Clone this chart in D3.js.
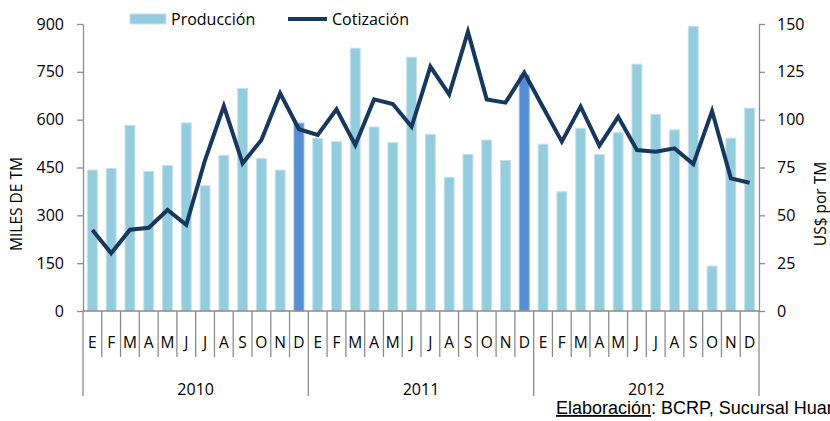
<!DOCTYPE html>
<html><head><meta charset="utf-8">
<script src="https://cdn.jsdelivr.net/npm/d3@7"></script>
<style>
html,body{margin:0;padding:0;background:#fff;}
svg{display:block;}
</style></head>
<body>
<svg id="chart" width="830" height="421"></svg>
<script>
const years = ["2010","2011","2012"];
const monthLabels = ["E","F","M","A","M","J","J","A","S","O","N","D"];
const produccion = [
  442,447,582,438,456,590,393,488,698,478,442,589,
  541,531,824,577,528,796,554,419,491,536,472,740,
  523,374,573,491,559,774,617,568,892,141,542,636
];
const cotizacion = [
  42.3,30.2,42.5,43.5,52.8,45.0,78.9,107.1,77.2,89.4,113.8,95.0,
  92.0,105.4,86.8,110.6,108.2,96.3,127.7,113.2,146.0,110.6,108.9,124.5,
  106.5,88.5,106.8,86.4,101.5,84.1,83.3,85.0,76.8,104.5,69.3,67.0
];
const highlightIdx = [11,23];
const leftTicks = [0,150,300,450,600,750,900];
const rightTicks = [0,25,50,75,100,125,150];

const months = [];
years.forEach((y,yi)=>monthLabels.forEach((m,mi)=>months.push({key:y+"-"+mi, m, y, i:yi*12+mi})));

const svg = d3.select("#chart");
const L = 83, R = 759, T = 24, B = 311;
const FONT = "'Open Sans', sans-serif";

const x = d3.scaleBand().domain(months.map(d=>d.key)).range([L,R]).paddingInner(0.42).paddingOuter(0.21);
const yL = d3.scaleLinear().domain([0,900]).range([B,T]);
const yR = d3.scaleLinear().domain([0,150]).range([B,T]);

// bars
svg.append("g").selectAll("rect").data(months).join("rect")
  .attr("x", d=>x(d.key)+0.5)
  .attr("width", x.bandwidth()-1)
  .attr("y", d=>yL(produccion[d.i]))
  .attr("height", d=>B - yL(produccion[d.i]))
  .attr("fill", d=>highlightIdx.includes(d.i) ? "#558ED5" : "#93CDDD")
  .attr("stroke", d=>highlightIdx.includes(d.i) ? "#8EB4E3" : "#C6E0EE")
  .attr("stroke-width", 1);

// axes
const axColor = "#8C8C8C";
const gL = svg.append("g").attr("transform",`translate(${L},0)`)
  .call(d3.axisLeft(yL).tickValues(leftTicks).tickSize(6).tickSizeOuter(0).tickPadding(13));
const gR = svg.append("g").attr("transform",`translate(${R},0)`)
  .call(d3.axisRight(yR).tickValues(rightTicks).tickSize(6).tickSizeOuter(0).tickPadding(12));
[gL,gR].forEach(g=>{
  g.selectAll("path,line").attr("stroke",axColor).attr("stroke-width",1.3);
  g.selectAll("text").attr("font-family",FONT).attr("font-size",16).attr("fill","#000");
});

// bottom category axis
const step = x.step();
const x0 = L;
const gB = svg.append("g");
gB.append("line").attr("x1",L).attr("x2",R).attr("y1",B).attr("y2",B).attr("stroke",axColor).attr("stroke-width",1.3);
d3.range(months.length+1).forEach(i=>{
  const isYear = i % 12 === 0;
  gB.append("line")
    .attr("x1", x0 + i*step).attr("x2", x0 + i*step)
    .attr("y1", B).attr("y2", isYear ? 396 : 357)
    .attr("stroke", axColor).attr("stroke-width", 1.3);
});
gB.selectAll("text.m").data(months).join("text").attr("class","m")
  .attr("x", d=>x(d.key)+x.bandwidth()/2)
  .attr("y", 343)
  .attr("dy","0.35em")
  .attr("text-anchor","middle")
  .attr("font-family",FONT).attr("font-size",15.5).attr("fill","#000")
  .text(d=>d.m);
gB.selectAll("text.y").data(years).join("text").attr("class","y")
  .attr("x", (d,i)=>x0 + (i*12+6)*step)
  .attr("y", 389)
  .attr("dy","0.35em")
  .attr("text-anchor","middle")
  .attr("font-family",FONT).attr("font-size",16).attr("fill","#000")
  .text(d=>d);

// line
const line = d3.line().x(d=>x(d.key)+x.bandwidth()/2).y(d=>yR(cotizacion[d.i]));
svg.append("path").datum(months).attr("d",line)
  .attr("fill","none").attr("stroke","#17375E").attr("stroke-width",4).attr("stroke-linejoin","miter");

// axis titles
svg.append("text").attr("transform","translate(17,204) rotate(-90)")
  .attr("text-anchor","middle").attr("dy","0.35em")
  .attr("font-family",FONT).attr("font-size",15.5).attr("fill","#000").text("MILES DE TM");
svg.append("text").attr("transform","translate(821,204) rotate(-90)")
  .attr("text-anchor","middle").attr("dy","0.35em")
  .attr("font-family",FONT).attr("font-size",15.5).attr("fill","#000").text("US$ por TM");

// legend
const lg = svg.append("g");
lg.append("rect").attr("x",130).attr("y",14).attr("width",36).attr("height",10)
  .attr("fill","#93CDDD").attr("stroke","#C6E0EE");
lg.append("text").attr("x",171).attr("y",19).attr("dy","0.35em")
  .attr("font-family",FONT).attr("font-size",16).attr("fill","#000").text("Producción");
lg.append("line").attr("x1",288).attr("x2",327).attr("y1",19).attr("y2",19)
  .attr("stroke","#17375E").attr("stroke-width",4);
lg.append("text").attr("x",332).attr("y",19).attr("dy","0.35em")
  .attr("font-family",FONT).attr("font-size",16).attr("fill","#000").text("Cotización");

// footer
const ft = svg.append("text").attr("x",556).attr("y",414)
  .attr("font-family","'Liberation Sans', Arial, sans-serif").attr("font-size",18).attr("fill","#000");
ft.append("tspan").attr("text-decoration","underline").text("Elaboración");
ft.append("tspan").text(": BCRP, Sucursal Huancayo");
</script>
</body></html>
